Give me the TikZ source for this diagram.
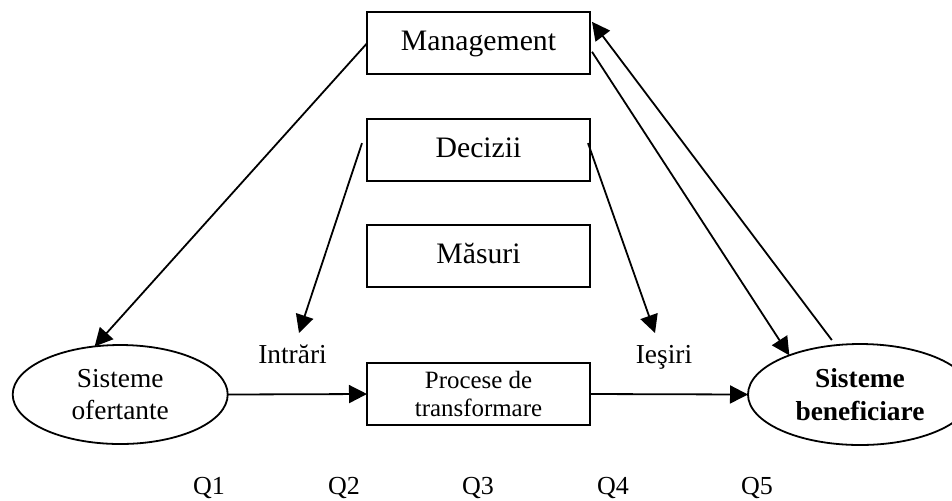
\documentclass[tikz,border=0pt]{standalone}
\usepackage{fontspec}
\setmainfont{Liberation Serif}
\usetikzlibrary{arrows.meta,shapes.geometric,calc}
\begin{document}
\begin{tikzpicture}[x=0.5pt,y=-0.5pt,
  every node/.style={outer sep=0pt},
  box/.style={draw,line width=0.9pt,minimum width=111.5pt,minimum height=31pt,inner sep=0pt},
  stage/.style={box,font=\fontsize{14.85}{17}\selectfont,text height=10.4pt,text depth=3pt},
  system/.style={draw,ellipse,line width=0.9pt,inner sep=0pt,align=center,
    font=\fontsize{13.7}{16.35}\selectfont},
  flow/.style={-{Triangle[length=9pt,width=9pt]},line width=0.9pt},
  lbl/.style={font=\fontsize{13.7}{16.35}\selectfont,anchor=base,inner sep=0pt},
  qlbl/.style={font=\fontsize{13}{15}\selectfont,anchor=base,inner sep=0pt}
]
\useasboundingbox (0,0) rectangle (952,500);

% central column
\node[stage] (mgmt) at (478.5,43.3) {Management};
\node[stage] (dec)  at (478.5,149.7) {Decizii};
\node[stage] (mas)  at (478.5,256) {Măsuri};
\node[box,align=center,font=\fontsize{12.45}{14.15}\selectfont] (proc) at (478.5,394) {Procese de\\transformare};

% supplier and beneficiary systems
\node[system,minimum width=107.5pt,minimum height=49.5pt] (ofert) at (120.2,394.5) {Sisteme\\ofertante};
\node[system,minimum width=112pt,minimum height=50.5pt,
  font=\fontsize{13.7}{16.35}\selectfont\bfseries] (benef) at (860,394.5) {Sisteme\\beneficiare};

% flow labels
\node[lbl] (intr) at (292.5,363) {Intrări};
\node[lbl] (ies)  at (664,363) {Ieşiri};

\node[qlbl] (q1) at (209,494) {Q1};
\node[qlbl] (q2) at (344,494) {Q2};
\node[qlbl] (q3) at (478,494) {Q3};
\node[qlbl] (q4) at (613,494) {Q4};
\node[qlbl] (q5) at (757,494) {Q5};

\coordinate (inTip)  at (299,333);
\coordinate (outTip) at (655,333);

% connectors
\draw[flow] (mgmt.west) -- (ofert.118);
\draw[flow] ([xshift=-2.5pt,yshift=3.3pt]dec.west) -- (inTip);
\draw[flow] ([xshift=-1pt,yshift=3.3pt]dec.east) -- (outTip);
\draw[flow] ([xshift=1pt,yshift=-4.25pt]mgmt.east) -- (benef.151);
\draw[flow] ([yshift=2.8pt]benef.120) -- ([xshift=1pt,yshift=10.75pt]mgmt.east);
\draw[flow] (ofert.east) -- (proc.west);
\draw[flow] (proc.east) -- (benef.west);
\end{tikzpicture}
\end{document}
